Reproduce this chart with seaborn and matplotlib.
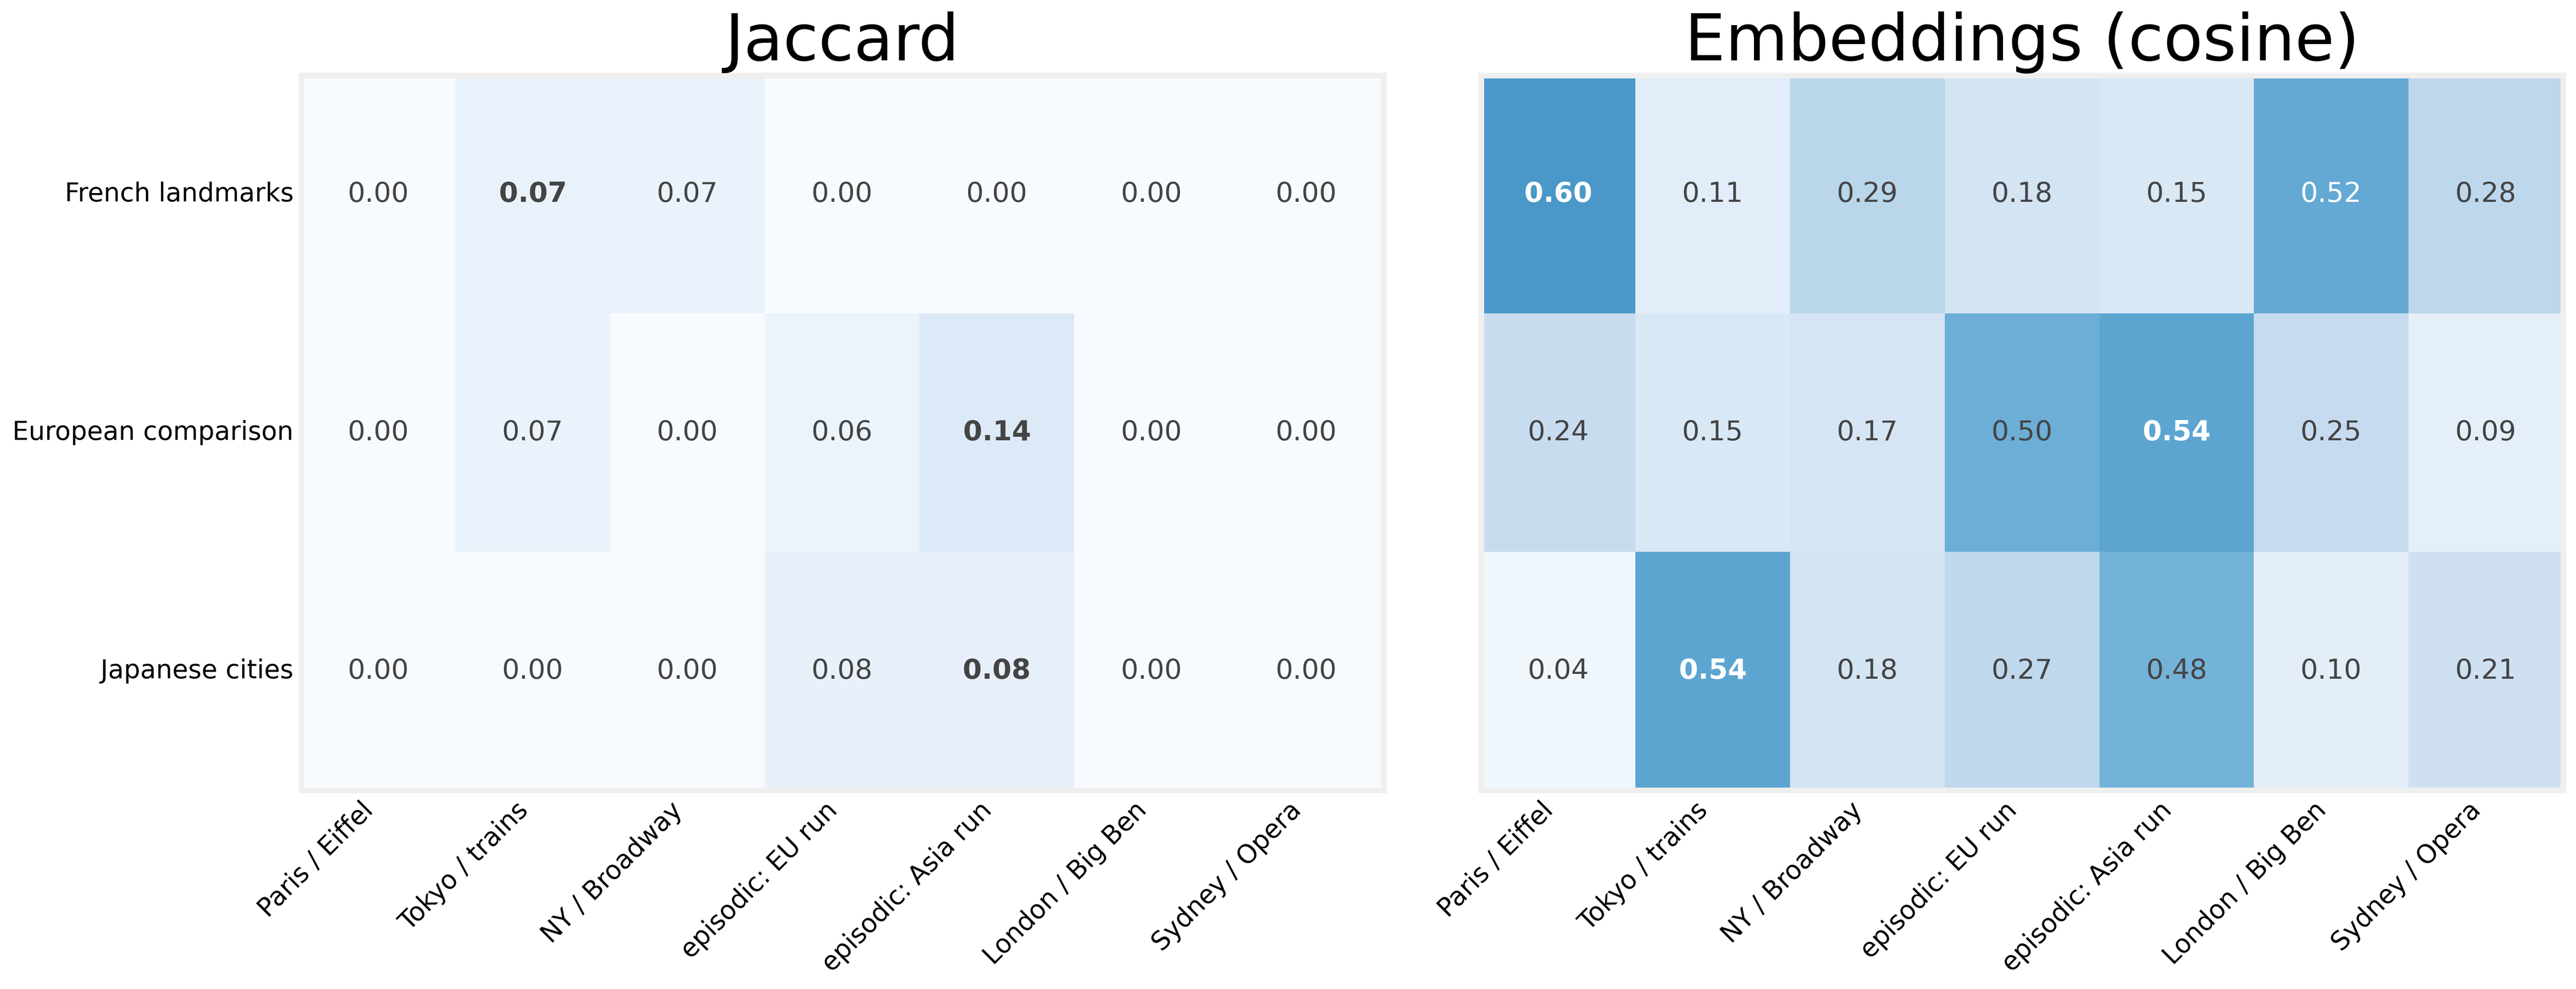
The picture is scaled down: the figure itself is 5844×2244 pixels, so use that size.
import numpy as np
import pandas as pd
import matplotlib
matplotlib.use("Agg")
import matplotlib.pyplot as plt
import seaborn as sns

rows = ["French landmarks", "European comparison", "Japanese cities"]
cols = ["Paris / Eiffel", "Tokyo / trains", "NY / Broadway", "episodic: EU run",
        "episodic: Asia run", "London / Big Ben", "Sydney / Opera"]

jaccard_french = [0.00, 0.071, 0.067, 0.00, 0.00, 0.00, 0.00]
jaccard_european = [0.00, 0.07, 0.00, 0.06, 0.14, 0.00, 0.00]
jaccard_japanese = [0.00, 0.00, 0.00, 0.077, 0.083, 0.00, 0.00]

cosine_french = [0.60, 0.11, 0.29, 0.18, 0.15, 0.52, 0.28]
cosine_european = [0.24, 0.15, 0.17, 0.498, 0.54, 0.25, 0.09]
cosine_japanese = [0.04, 0.54, 0.18, 0.27, 0.48, 0.10, 0.21]

titles = ["Jaccard", "Embeddings (cosine)"]

sns.set_style("white")
plt.rcParams["font.family"] = ["DejaVu Sans"]
plt.rcParams["text.color"] = "black"
plt.rcParams["xtick.color"] = "black"
plt.rcParams["ytick.color"] = "black"
plt.rcParams["xtick.labelcolor"] = "black"
plt.rcParams["ytick.labelcolor"] = "black"

jac = pd.DataFrame([jaccard_french, jaccard_european, jaccard_japanese], index=rows, columns=cols)
cos = pd.DataFrame([cosine_french, cosine_european, cosine_japanese], index=rows, columns=cols)

fig = plt.figure(figsize=(19.48, 7.48), dpi=300)
ax1 = fig.add_axes([0.1168, 0.2010, 0.4203, 0.7230])
ax2 = fig.add_axes([0.5749, 0.2010, 0.4201, 0.7230])

for ax, df, title, show_y in [(ax1, jac, titles[0], True), (ax2, cos, titles[1], False)]:
    sns.heatmap(df, ax=ax, cmap="Blues", vmin=0, vmax=1, cbar=False,
                annot=True, fmt=".2f", annot_kws={"fontsize": 15},
                yticklabels=show_y)
    vals = df.values
    rowmax = vals.max(axis=1)
    for t, (i, j) in zip(ax.texts, [(i, j) for i in range(vals.shape[0]) for j in range(vals.shape[1])]):
        v = vals[i, j]
        t.set_color("white" if v > 0.5 else "#444444")
        if v == rowmax[i] and v > 0:
            t.set_fontweight("bold")
    ax.set_title(title, fontsize=35, pad=8, color="black")
    ax.set_xlabel("")
    ax.set_ylabel("")
    ax.tick_params(length=0, labelsize=14, pad=4, labelcolor="black")
    plt.setp(ax.get_xticklabels(), rotation=45, ha="right", color="black")
    if show_y:
        plt.setp(ax.get_yticklabels(), rotation=0, color="black")
    else:
        ax.set_yticks([])
    for s in ax.spines.values():
        s.set_visible(True)
        s.set_color("#efefef")
        s.set_linewidth(3.1)

fig.savefig("out.png", dpi=300)
